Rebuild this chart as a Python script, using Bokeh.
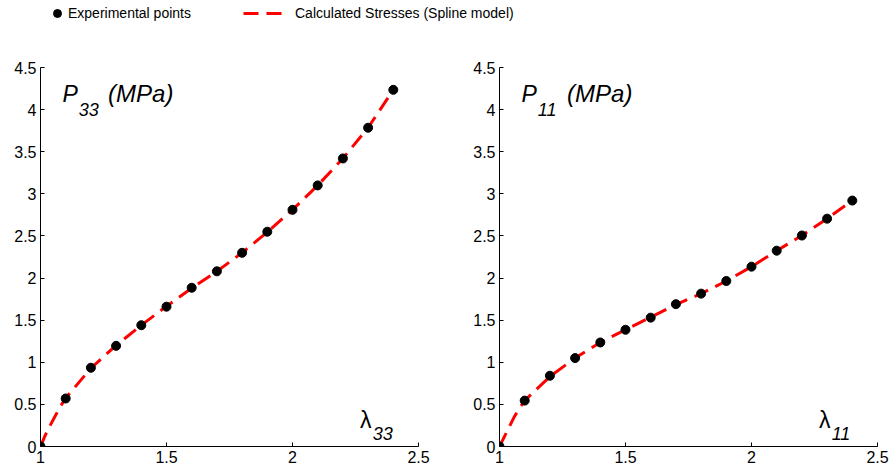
from bokeh.plotting import figure
from bokeh.models import Range1d, FixedTicker, Legend, LegendItem, Label
from bokeh.layouts import column, row
from bokeh.embed import file_html
from bokeh.resources import INLINE

# ---- data ----
lam = [1.0, 1.1, 1.2, 1.3, 1.4, 1.5, 1.6, 1.7, 1.8, 1.9, 2.0, 2.1, 2.2, 2.3, 2.4]
p33_exp = [0.0, 0.57, 0.935, 1.195, 1.44, 1.66, 1.885, 2.08, 2.30, 2.55, 2.81, 3.10, 3.42, 3.785, 4.235]
p11_exp = [0.0, 0.545, 0.84, 1.05, 1.235, 1.386, 1.53, 1.69, 1.815, 1.965, 2.135, 2.325, 2.505, 2.705, 2.92]

lam_model = [1.0, 1.02, 1.04, 1.06, 1.08, 1.1, 1.2, 1.3, 1.4, 1.5, 1.6, 1.7, 1.8, 1.9, 2.0, 2.1, 2.2, 2.3, 2.4]
p33_model = [0.0, 0.14, 0.26, 0.37, 0.48, 0.575, 0.93, 1.2, 1.44, 1.665, 1.88, 2.08, 2.30, 2.545, 2.81, 3.10, 3.42, 3.785, 4.235]
p11_model = [0.0, 0.12, 0.24, 0.36, 0.46, 0.545, 0.83, 1.05, 1.235, 1.386, 1.535, 1.685, 1.815, 1.965, 2.135, 2.325, 2.505, 2.705, 2.92]

x_ticks = [1, 1.5, 2, 2.5]
x_tick_labels = ["1", "1.5", "2", "2.5"]
y_ticks = [0, 0.5, 1, 1.5, 2, 2.5, 3, 3.5, 4, 4.5]
y_tick_labels = ["0", "0.5", "1", "1.5", "2", "2.5", "3", "3.5", "4", "4.5"]

legend_labels = ["Experimental points", "Calculated Stresses (Spline model)"]

RED = "#ff0000"
DASH = "15 8"
TICK_FONT = "Liberation Sans"
LEG_FONT = "Liberation Sans"


def make_panel(x_exp, y_exp, x_mod, y_mod, border_left, border_right, width, sub):
    p = figure(width=width, height=431, output_backend="svg", toolbar_location=None,
               x_range=Range1d(1, 2.5), y_range=Range1d(0, 4.5),
               min_border_left=border_left, min_border_right=border_right,
               min_border_top=24, min_border_bottom=28)
    p.outline_line_color = None
    p.grid.visible = False
    p.background_fill_color = "white"
    p.border_fill_color = "white"
    p.line(x_mod, y_mod, line_color=RED, line_width=3, line_dash=DASH)
    p.scatter(x_exp, y_exp, size=9, fill_color="black", line_color="black")
    for ax, ticks, labels in ((p.xaxis[0], x_ticks, x_tick_labels), (p.yaxis[0], y_ticks, y_tick_labels)):
        ax.ticker = FixedTicker(ticks=ticks)
        ax.major_label_overrides = {float(t): l for t, l in zip(ticks, labels)}
        ax.minor_tick_line_color = None
        ax.major_tick_in = 4
        ax.major_tick_out = 0
        ax.major_tick_line_color = "black"
        ax.axis_line_color = "black"
        ax.axis_line_width = 1
        ax.major_label_text_font = TICK_FONT
        ax.major_label_text_font_size = "16px"
        ax.major_label_text_color = "black"
        ax.major_label_standoff = 4
    # axis title texts
    p.add_layout(Label(x=1.087, y=4.19, text="P", text_font=TICK_FONT, text_font_style="italic",
                       text_font_size="23px", text_baseline="alphabetic", text_color="black"))
    p.add_layout(Label(x=1.152, y=4.0, text=sub, text_font=TICK_FONT, text_font_style="italic",
                       text_font_size="18px", text_baseline="alphabetic", text_color="black"))
    p.add_layout(Label(x=1.268, y=4.19, text="(MPa)", text_font=TICK_FONT, text_font_style="italic",
                       text_font_size="24px", text_baseline="alphabetic", text_color="black"))
    p.add_layout(Label(x=2.268, y=0.31, text="\u03bb", text_font=TICK_FONT,
                       text_font_size="23px", text_baseline="alphabetic", text_color="black"))
    p.add_layout(Label(x=2.318, y=0.155, text=sub, text_font=TICK_FONT, text_font_style="italic",
                       text_font_size="18px", text_baseline="alphabetic", text_color="black"))
    return p


p1 = make_panel(lam, p33_exp, lam_model, p33_model, 40, 28, 446, "33")
p2 = make_panel(lam, p11_exp, lam_model, p11_model, 53, 15, 446, "11")

# ---- legend strip (renderers hold real data but lie outside this strip's ranges) ----
lg = figure(width=892, height=43, output_backend="svg", toolbar_location=None,
            x_range=Range1d(100, 101), y_range=Range1d(100, 101),
            min_border_left=0, min_border_right=0, min_border_top=0, min_border_bottom=0)
lg.axis.visible = False
lg.grid.visible = False
lg.outline_line_color = None
r_pts = lg.scatter(lam, p33_exp, size=9, fill_color="black", line_color="black")
r_line = lg.line(lam_model, p33_model, line_color=RED, line_width=3, line_dash=DASH)

common = dict(orientation="horizontal", padding=0, margin=0, border_line_color=None,
              background_fill_alpha=0, label_text_font=LEG_FONT,
              label_text_font_size="14px", label_text_color="black", glyph_height=20,
              label_height=20)
leg1 = Legend(items=[LegendItem(label=legend_labels[0], renderers=[r_pts])],
              location=(47, 20), glyph_width=20, label_standoff=1, **common)
leg2 = Legend(items=[LegendItem(label=legend_labels[1], renderers=[r_line])],
              location=(243, 20), glyph_width=42, label_standoff=10, **common)
lg.add_layout(leg1)
lg.add_layout(leg2)

layout = column(lg, row(p1, p2))
open("out.html", "w").write(file_html(layout, INLINE))
